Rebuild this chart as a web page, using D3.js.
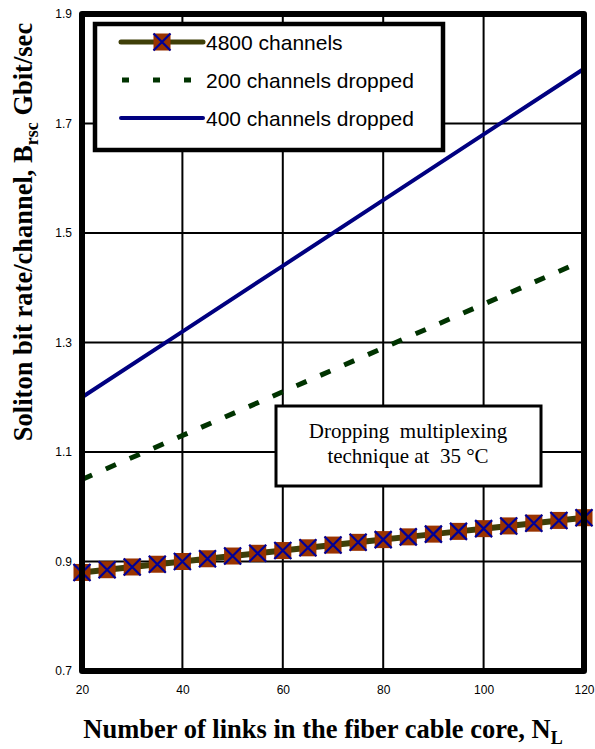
<!DOCTYPE html>
<html>
<head>
<meta charset="utf-8">
<script src="https://cdn.jsdelivr.net/npm/d3@7"></script>
<style>
  html, body { margin: 0; padding: 0; background: #fff; }
  svg { display: block; }
</style>
</head>
<body>
<svg id="chart" width="595" height="749"></svg>
<script>
// Number of links in the fiber cable core
const linksMarked = [20, 25, 30, 35, 40, 45, 50, 55, 60, 65, 70, 75, 80, 85, 90, 95, 100, 105, 110, 115, 120];
// Soliton bit rate per channel, 4800 channels (Gbit/sec)
const rate4800 = [0.880, 0.885, 0.890, 0.895, 0.900, 0.905, 0.910, 0.915, 0.920, 0.925, 0.930,
                  0.935, 0.940, 0.945, 0.950, 0.955, 0.960, 0.965, 0.970, 0.975, 0.980];
const linksCoarse = [20, 40, 60, 80, 100, 120];
const rate200Dropped = [1.05, 1.13, 1.21, 1.29, 1.37, 1.45];
const rate400Dropped = [1.20, 1.32, 1.44, 1.56, 1.68, 1.80];

const xTicks = [20, 40, 60, 80, 100, 120];
const yTicks = [0.7, 0.9, 1.1, 1.3, 1.5, 1.7, 1.9];
const seriesNames = ["4800 channels", "200 channels dropped", "400 channels dropped"];
const noteLines = ["Dropping  multiplexing", "technique at  35 \u00B0C"];

const svg = d3.select("#chart");
const x = d3.scaleLinear().domain([20, 120]).range([82, 584]);
const y = d3.scaleLinear().domain([0.7, 1.9]).range([671, 14]);

// grid
const grid = svg.append("g");
grid.selectAll("line.v").data(xTicks.slice(1, -1)).join("line")
  .attr("x1", d => x(d)).attr("x2", d => x(d))
  .attr("y1", y(1.9)).attr("y2", y(0.7))
  .attr("stroke", "#000").attr("stroke-width", 2);
grid.selectAll("line.h").data(yTicks.slice(1, -1)).join("line")
  .attr("x1", x(20)).attr("x2", x(120))
  .attr("y1", d => y(d)).attr("y2", d => y(d))
  .attr("stroke", "#000").attr("stroke-width", 2);

// tick labels via axes
const xAxis = svg.append("g").attr("transform", `translate(0,${y(0.7)})`)
  .call(d3.axisBottom(x).tickValues(xTicks).tickSize(0).tickPadding(14).tickFormat(d3.format("d")));
const yAxis = svg.append("g").attr("transform", `translate(${x(20)},0)`)
  .call(d3.axisLeft(y).tickValues(yTicks).tickSize(0).tickPadding(10).tickFormat(d3.format(".1f")));
[xAxis, yAxis].forEach(a => {
  a.select(".domain").remove();
  a.selectAll("text").attr("font-family", "Liberation Sans, Arial, sans-serif")
    .attr("font-size", 12).attr("fill", "#000");
});

const plot = svg.append("g");
plot.append("clipPath").attr("id", "clip").append("rect")
  .attr("x", x(20)).attr("y", y(1.9)).attr("width", x(120) - x(20)).attr("height", y(0.7) - y(1.9));

const line = d3.line().x(d => x(d[0])).y(d => y(d[1]));

// 400 channels dropped
plot.append("path").datum(linksCoarse.map((n, i) => [n, rate400Dropped[i]]))
  .attr("d", line).attr("fill", "none").attr("stroke", "#000080").attr("stroke-width", 4)
  .attr("clip-path", "url(#clip)");
// 200 channels dropped
plot.append("path").datum(linksCoarse.map((n, i) => [n, rate200Dropped[i]]))
  .attr("d", line).attr("fill", "none").attr("stroke", "#003300").attr("stroke-width", 5)
  .attr("stroke-dasharray", "11,15").attr("clip-path", "url(#clip)");
// 4800 channels
const pts4800 = linksMarked.map((n, i) => [n, rate4800[i]]);
plot.append("path").datum(pts4800)
  .attr("d", line).attr("fill", "none").attr("stroke", "#3f3f08").attr("stroke-width", 6);

function marker(g, cx, cy) {
  const s = 8.5;
  g.append("rect").attr("x", cx - s).attr("y", cy - s).attr("width", 2 * s).attr("height", 2 * s)
    .attr("fill", "#993300");
  g.append("path").attr("d", `M${cx - s},${cy - s}L${cx + s},${cy + s}M${cx - s},${cy + s}L${cx + s},${cy - s}`)
    .attr("stroke", "#000099").attr("stroke-width", 2.2).attr("fill", "none");
}
const mk = plot.append("g");
pts4800.forEach(p => marker(mk, x(p[0]), y(p[1])));

// frame
svg.append("rect").attr("x", x(20)).attr("y", y(1.9))
  .attr("width", x(120) - x(20)).attr("height", y(0.7) - y(1.9))
  .attr("fill", "none").attr("stroke", "#000").attr("stroke-width", 6)
  .attr("stroke-linejoin", "round");

// legend
const lg = svg.append("g");
lg.append("rect").attr("x", 95).attr("y", 24).attr("width", 348).attr("height", 126)
  .attr("fill", "#fff").attr("stroke", "#000").attr("stroke-width", 4.5);
const legendY = [42, 80, 118];
lg.append("line").attr("x1", 121).attr("x2", 203).attr("y1", legendY[0]).attr("y2", legendY[0])
  .attr("stroke", "#3f3f08").attr("stroke-width", 5).attr("stroke-linecap", "round");
marker(lg, 162, legendY[0]);
lg.append("line").attr("x1", 122).attr("x2", 203).attr("y1", legendY[1]).attr("y2", legendY[1])
  .attr("stroke", "#003300").attr("stroke-width", 5).attr("stroke-dasharray", "7,24");
lg.append("line").attr("x1", 121).attr("x2", 203).attr("y1", legendY[2]).attr("y2", legendY[2])
  .attr("stroke", "#000080").attr("stroke-width", 4).attr("stroke-linecap", "round");
lg.selectAll("text").data(seriesNames).join("text")
  .attr("x", 206).attr("y", (d, i) => legendY[i] + 7.5)
  .attr("font-family", "Liberation Sans, Arial, sans-serif").attr("font-size", 21)
  .attr("fill", "#000").text(d => d);

// annotation box
const nb = svg.append("g");
nb.append("rect").attr("x", 276).attr("y", 406).attr("width", 265).attr("height", 80)
  .attr("fill", "#fff").attr("stroke", "#000").attr("stroke-width", 3);
nb.selectAll("text").data(noteLines).join("text")
  .attr("x", 408).attr("y", (d, i) => 438 + i * 25).attr("text-anchor", "middle")
  .attr("font-family", "Liberation Serif, Times New Roman, serif").attr("font-size", 21)
  .attr("fill", "#000").attr("xml:space", "preserve").style("white-space", "pre").text(d => d);

// axis titles
const xt = svg.append("text").attr("x", 323).attr("y", 738).attr("text-anchor", "middle")
  .attr("font-family", "Liberation Serif, Times New Roman, serif").attr("font-weight", "bold")
  .attr("font-size", 26.5).attr("fill", "#000");
xt.append("tspan").text("Number of links in the fiber cable core, N");
xt.append("tspan").attr("font-size", 18).attr("dy", 6).text("L");

const yt = svg.append("text").attr("transform", "translate(32,232) rotate(-90)").attr("text-anchor", "middle")
  .attr("font-family", "Liberation Serif, Times New Roman, serif").attr("font-weight", "bold")
  .attr("font-size", 26.5).attr("fill", "#000");
yt.append("tspan").text("Soliton bit rate/channel, B");
yt.append("tspan").attr("font-size", 18).attr("dy", 6).text("rsc");
yt.append("tspan").attr("dy", -6).text(" Gbit/sec");
</script>
</body>
</html>
